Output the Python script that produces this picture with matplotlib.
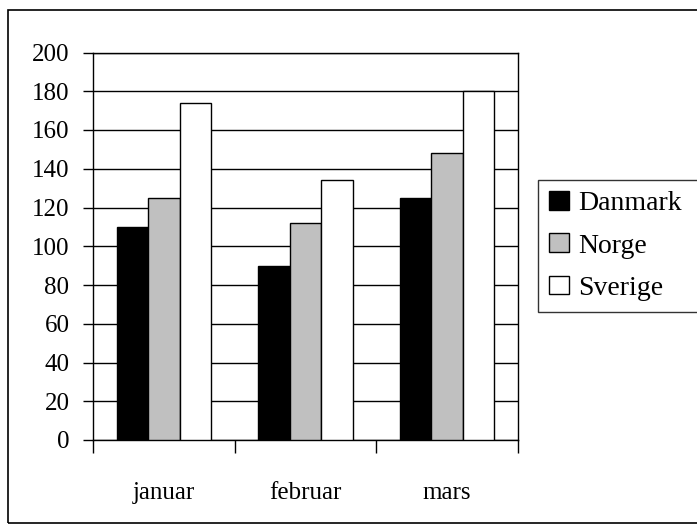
import matplotlib.pyplot as plt
import matplotlib.patches as patches
import numpy as np

months = ["januar", "februar", "mars"]
danmark = [110, 90, 125]
norge = [125, 112, 148]
sverige = [174, 134, 180]
yticks = [0, 20, 40, 60, 80, 100, 120, 140, 160, 180, 200]

plt.rcParams['font.family'] = ['Liberation Serif', 'DejaVu Serif']
fs = 18
lfs = 20

fig = plt.figure(figsize=(6.97, 5.28), dpi=100)
# outer chart border (right side runs off the image, as in the original)
fig.patches.append(patches.Rectangle((8/697, 1 - 523/528), 700/697, 513/528, transform=fig.transFigure,
                                     fill=False, edgecolor='black', linewidth=1.2))

ax = fig.add_axes([93/697, 1 - 440/528, 425/697, 387.5/528])

x = np.arange(len(months))
w = 1 / 4.5
ax.bar(x - w, danmark, w, color='black', edgecolor='black', linewidth=1, label='Danmark', zorder=3)
ax.bar(x, norge, w, color='#c0c0c0', edgecolor='black', linewidth=1, label='Norge', zorder=3)
ax.bar(x + w, sverige, w, color='white', edgecolor='black', linewidth=1, label='Sverige', zorder=3)

ax.set_xlim(-0.5, 2.5)
ax.set_ylim(0, 200)
ax.set_yticks(yticks)
ax.yaxis.grid(True, color='black', linewidth=1)
ax.set_axisbelow(True)
ax.tick_params(axis='y', direction='out', length=7, width=1, labelsize=fs, pad=10)

ax.set_xticks(x)
ax.set_xticklabels(months, fontsize=fs)
ax.set_xticks([-0.5, 0.5, 1.5, 2.5], minor=True)
ax.tick_params(axis='x', which='major', length=0, pad=30)
ax.tick_params(axis='x', which='minor', direction='out', length=9, width=1)

for s in ax.spines.values():
    s.set_color('black')
    s.set_linewidth(1)

# legend box starts at x=538 and runs past the right edge
leg = fig.legend(loc='center left', bbox_to_anchor=(538/697, 1 - 246/528, 170/697, 0),
                 mode='expand', fontsize=lfs,
                 frameon=True, fancybox=False, handlelength=0.7, handleheight=0.66,
                 handletextpad=0.34, labelspacing=0.62, borderpad=0.4, borderaxespad=0)
leg.get_frame().set_edgecolor('black')
leg.get_frame().set_linewidth(1)

fig.savefig('out.png', dpi=100)
